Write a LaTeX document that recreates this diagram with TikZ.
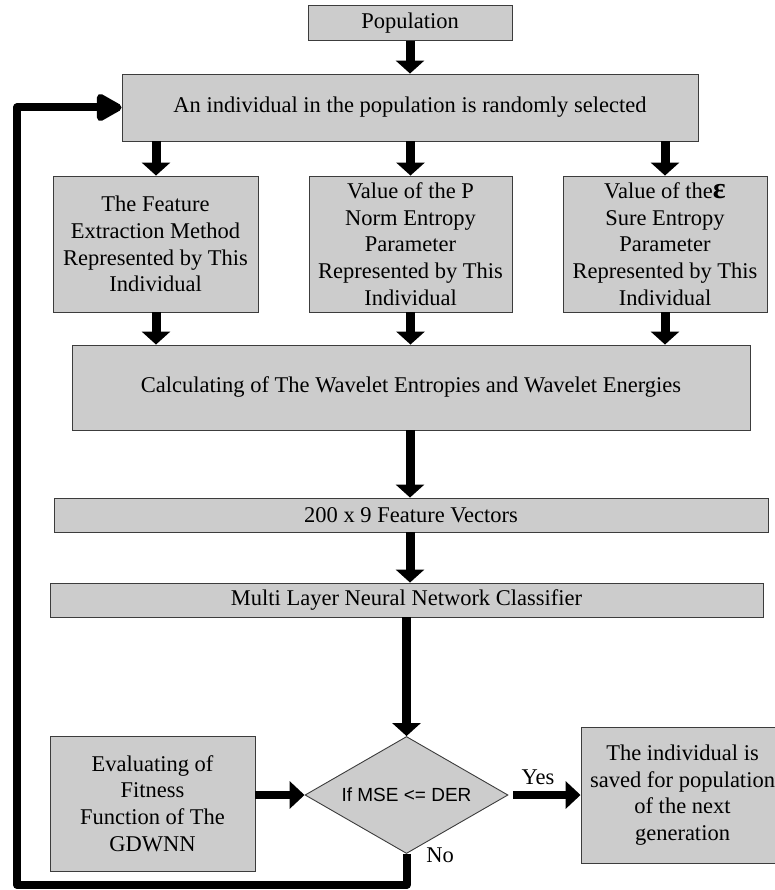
\documentclass[tikz,border=0pt]{standalone}
\usepackage{fontspec}
\setmainfont{Liberation Serif}
\newfontfamily\arialf{Liberation Sans}
\usetikzlibrary{arrows.meta,shapes.geometric}
\definecolor{boxgray}{RGB}{204,204,204}
\definecolor{edgegray}{RGB}{60,60,60}
\newcommand{\fsz}{\fontsize{22.5}{26.7}\selectfont}
\tikzset{
  box/.style={draw=edgegray, fill=boxgray, line width=0.9pt, align=center, inner sep=0pt, font=\fsz},
  flow/.style={line width=9pt, -{Triangle[width=28pt,length=13pt]}},
  back/.style={line width=8pt, line join=round, -{Triangle[width=30pt,length=29pt,round]}},
  lbl/.style={font=\fsz, inner sep=0pt}
}
\begin{document}
\begin{tikzpicture}[x=1pt,y=-1pt]
\useasboundingbox (0,0) rectangle (775,890);
\node[box, minimum width=204pt, minimum height=34.7pt] (pop) at (410,23.3) {Population};
\node[box, minimum width=576pt, minimum height=67pt] (sel) at (410,107.5) {An individual in the population is randomly selected};
\node[box, minimum width=205pt, minimum height=136pt] (b1) at (155.5,244) {The Feature\\Extraction Method\\Represented by This\\Individual};
\node[box, minimum width=203pt, minimum height=136pt] (b2) at (410.5,244) {Value of the P\\Norm Entropy\\Parameter\\Represented by This\\Individual};
\node[box, minimum width=204pt, minimum height=136pt] (b3) at (665,244) {Value of the{\fontsize{30}{26.7}\selectfont\bfseries ε}\\Sure Entropy\\Parameter\\Represented by This\\Individual};
\node[box, minimum width=678pt, minimum height=85pt] (calc) at (411,387.5) {Calculating of The Wavelet Entropies and Wavelet Energies};
\node[box, minimum width=714pt, minimum height=34pt] (fv) at (411,515) {200 x 9 Feature Vectors};
\node[box, minimum width=713pt, minimum height=34pt] (mlnn) at (406.5,600) {Multi Layer Neural Network Classifier};
\node[box, shape=diamond, aspect=1.735, minimum width=203pt, minimum height=117pt, font=\arialf\fontsize{19}{22}\selectfont] (dia) at (406.5,795) {If MSE <= DER};
\node[box, minimum width=205pt, minimum height=135pt] (eval) at (152.5,803.5) {Evaluating of\\Fitness\\Function of The\\GDWNN};
\node[box, minimum width=203pt, minimum height=136pt] (saved) at (682.5,795) {The individual is\\saved for population\\of the next\\generation};
\node[lbl] (yes) at (538,777) {Yes};
\node[lbl] (no) at (440,855) {No};
\coordinate (fbl) at (17,885);
% arrows
\draw[flow] (pop.south) -- (sel.north);
\draw[flow] (sel.south -| 156,0) -- (b1.north -| 156,0);
\draw[flow] (sel.south -| b2.north) -- (b2.north);
\draw[flow] (sel.south -| b3.north) -- (b3.north);
\draw[flow] (b1.south -| 156,0) -- (calc.north -| 156,0);
\draw[flow] (b2.south) -- (calc.north -| b2.south);
\draw[flow] (b3.south) -- (calc.north -| b3.south);
\draw[flow] (calc.south -| pop.south) -- (fv.north -| pop.south);
\draw[flow] (fv.south -| pop.south) -- (mlnn.north -| pop.south);
\draw[flow] (mlnn.south -| dia.north) -- (dia.north);
\draw[line width=8pt, -{Triangle[width=27pt,length=15pt]}] (eval.east |- dia.west) -- (dia.west);
\draw[line width=8pt, -{Triangle[width=27pt,length=15pt]}, shorten <=5pt] (dia.east) -- (saved.west);
\draw[back] (dia.south) |- (fbl) -- (fbl |- sel.west) -- (sel.west);
\end{tikzpicture}
\end{document}
